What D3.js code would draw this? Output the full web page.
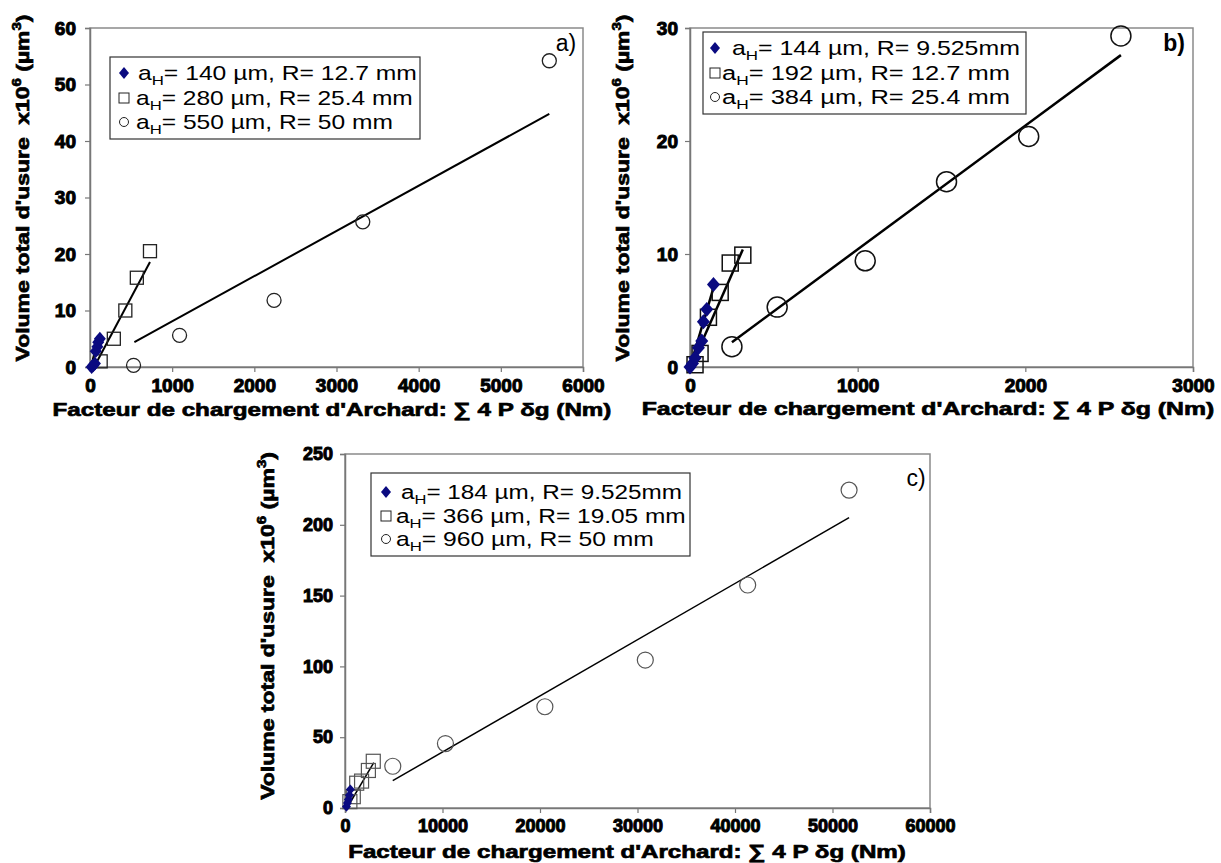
<!DOCTYPE html>
<html><head><meta charset="utf-8">
<script src="https://cdn.jsdelivr.net/npm/d3@7/dist/d3.min.js"></script>
<style>body{margin:0;background:#fff}svg{display:block}text{font-family:Arial,"Liberation Sans",sans-serif}</style>
</head><body>
<svg id="c" width="1221" height="863"></svg>
<script>
// ---------- DATA ----------
const aXTicks = [0,1000,2000,3000,4000,5000,6000];
const aYTicks = [0,10,20,30,40,50,60];
const aDiamonds = [[20,0],[40,0.3],[60,0.6],[70,2.8],[90,3.6],[100,4.4],[120,5]];
const aSquares  = [[130,1],[290,5],[430,10],[570,15.8],[730,20.5]];
const aCircles  = [[530,0.3],[1090,5.6],[2240,11.8],[3320,25.7],[5590,54.2]];
const aFitDiamonds = [[20,0.5],[90,4.6]];
const aFitSquares  = [[50,0],[730,18.6]];
const aFitCircles  = [[540,4.4],[5590,44.8]];
const aLegend = ["= 140 µm, R= 12.7 mm","= 280 µm, R= 25.4 mm","= 550 µm, R= 50 mm"];

const bXTicks = [0,1000,2000,3000];
const bYTicks = [0,10,20,30];
const bDiamonds = [[0,0],[15,0.3],[30,0.8],[50,1.7],[70,2.3],[80,4],[100,5.1],[140,7.3]];
const bSquares  = [[30,0.2],[60,1.2],[110,4.4],[180,6.6],[240,9.2],[315,9.9]];
const bCircles  = [[250,1.8],[520,5.3],[1045,9.4],[1530,16.4],[2020,20.4],[2570,29.3]];
const bFitDiamonds = [[0,0],[140,7]];
const bFitSquares  = [[20,0.5],[315,10.4]];
const bFitCircles  = [[250,2.2],[2570,27.6]];
const bLegend = ["= 144 µm, R= 9.525mm","= 192 µm, R= 12.7 mm","= 384 µm, R= 25.4 mm"];

const cXTicks = [0,10000,20000,30000,40000,50000,60000];
const cYTicks = [0,50,100,150,200,250];
const cDiamonds = [[150,1],[250,3.5],[350,6],[450,9],[550,13]];
const cSquares  = [[500,4.5],[850,8],[1200,17.5],[1700,19],[2400,26.5],[2900,33]];
const cCircles  = [[4900,29.5],[10300,45.5],[20500,71.5],[30800,104.5],[41300,157.5],[51700,224.5]];
const cFitDiamonds = [[100,0],[600,14]];
const cFitSquares  = [[200,0],[2950,32]];
const cFitCircles  = [[4900,19.3],[51700,205]];
const cLegend = ["= 184 µm, R= 9.525mm","= 366 µm, R= 19.05 mm","= 960 µm, R= 50 mm"];

const xTitle = "Facteur de chargement d'Archard: \u2211 4 P \u03B4g (Nm)";

// ---------- DRAW ----------
const svg = d3.select("#c");
const navy = "#0a0a80";
const diamondPath = (cx,cy,w,h) => `M${cx},${cy-h}L${cx+w},${cy}L${cx},${cy+h}L${cx-w},${cy}Z`;

function panel(o){
  const g = svg.append("g");
  const x = d3.scaleLinear().domain([o.xTicks[0], o.xTicks[o.xTicks.length-1]]).range([o.L, o.R]);
  const y = d3.scaleLinear().domain([o.yTicks[0], o.yTicks[o.yTicks.length-1]]).range([o.B, o.T]);
  g.append("rect").attr("x",o.L).attr("y",o.T).attr("width",o.R-o.L).attr("height",o.B-o.T)
    .attr("fill","none").attr("stroke","#8a8a8a").attr("stroke-width",1.5);
  const ax = g.append("g").attr("transform",`translate(0,${o.B})`)
    .call(d3.axisBottom(x).tickValues(o.xTicks).tickSize(5).tickPadding(5).tickFormat(d3.format("d")));
  const ay = g.append("g").attr("transform",`translate(${o.L},0)`)
    .call(d3.axisLeft(y).tickValues(o.yTicks).tickSize(5).tickPadding(o.ypad).tickFormat(d3.format("d")));
  [ax,ay].forEach(a=>{
    a.select(".domain").attr("stroke","#777").attr("stroke-width",1.5);
    a.selectAll(".tick line").attr("stroke","#777").attr("stroke-width",1.2);
    a.selectAll(".tick text")
      .style("font-size",o.tickFs+"px").style("font-weight","bold").style("fill","#000")
      .style("stroke","#000").style("stroke-width","1px")
      .style("font-family","Arial,'Liberation Sans',sans-serif");
  });
  ax.selectAll(".tick text").attr("dy","0.78em");

  const line = d3.line().x(d=>x(d[0])).y(d=>y(d[1]));
  [[o.fitS,"#000"],[o.fitC,"#000"],[o.fitD,o.fitDColor]].forEach(([f,c])=>{
    g.append("path").attr("d",line(f)).attr("stroke",c).attr("stroke-width",o.lw).attr("fill","none");
  });
  g.selectAll(null).data(o.circles).join("circle")
    .attr("cx",d=>x(d[0])).attr("cy",d=>y(d[1])).attr("r",o.cr)
    .attr("fill","none").attr("stroke",o.mk).attr("stroke-width",o.mw);
  g.selectAll(null).data(o.squares).join("rect")
    .attr("x",d=>x(d[0])-o.sq/2).attr("y",d=>y(d[1])-o.sq/2).attr("width",o.sq).attr("height",o.sq)
    .attr("fill","none").attr("stroke",o.mk).attr("stroke-width",o.mw);
  g.selectAll(null).data(o.diamonds).join("path")
    .attr("d",d=>diamondPath(x(d[0]),y(d[1]),o.dm/2,o.dm/2*1.15))
    .attr("fill",navy);

  // legend
  const lg = g.append("g");
  lg.append("rect").attr("x",o.lx0).attr("y",o.ly0).attr("width",o.lx1-o.lx0).attr("height",o.ly1-o.ly0)
    .attr("fill","#fff").attr("stroke","#333").attr("stroke-width",1.2);
  o.legend.forEach((t,i)=>{
    const cy = o.rows[i];
    if(i===0){
      lg.append("path").attr("d",diamondPath(o.mx,cy,5,6)).attr("fill",navy);
    } else if(i===1){
      lg.append("rect").attr("x",o.mx-5).attr("y",cy-5).attr("width",10).attr("height",10).attr("fill","none").attr("stroke","#222").attr("stroke-width",1);
    } else {
      lg.append("circle").attr("cx",o.mx).attr("cy",cy).attr("r",4.5).attr("fill","none").attr("stroke","#222").attr("stroke-width",1);
    }
    const te = lg.append("text").attr("x",0).attr("y",0).style("font-size",o.lfs+"px").attr("fill","#000");
    te.append("tspan").text("a");
    te.append("tspan").style("font-size",(o.lfs*0.68)+"px").attr("dy",o.lfs*0.25).text("H");
    te.append("tspan").attr("dy",-o.lfs*0.25).text(t);
    const s = o.tw[i] / te.node().getBBox().width;
    te.attr("transform",`translate(${o.tx[i]},${cy+o.lfs*0.36}) scale(${s},1)`);
  });

  g.append("text").attr("x",o.plx).attr("y",o.ply).style("font-size",o.plfs+"px").style("font-weight",o.plw)
    .attr("text-anchor","middle").text(o.pl);

  const xt = g.append("text").style("font-size",o.tfs+"px").style("font-weight","bold").attr("text-anchor","middle")
    .style("stroke","#000").style("stroke-width","0.7px").text(xTitle);
  const sx = o.xtw / xt.node().getBBox().width;
  xt.attr("transform",`translate(${o.xtx},${o.xty}) scale(${sx},1)`);

  const yt = g.append("text").style("font-size",o.tfs+"px").style("font-weight","bold").attr("text-anchor","middle")
    .style("stroke","#000").style("stroke-width","0.7px");
  yt.append("tspan").text("Volume total d'usure\u00A0 x10");
  yt.append("tspan").style("font-size",(o.tfs*0.65)+"px").attr("dy",-o.tfs*0.4).text("6");
  yt.append("tspan").attr("dy",o.tfs*0.4).text(" (µm");
  yt.append("tspan").style("font-size",(o.tfs*0.65)+"px").attr("dy",-o.tfs*0.4).text("3");
  yt.append("tspan").attr("dy",o.tfs*0.4).text(")");
  const sy = o.ytw / yt.node().getBBox().width;
  yt.attr("transform",`translate(${o.ytx},${o.yty}) rotate(-90) scale(${sy},1)`);
}

panel({xTicks:aXTicks,yTicks:aYTicks,diamonds:aDiamonds,squares:aSquares,circles:aCircles,
  fitD:aFitDiamonds,fitS:aFitSquares,fitC:aFitCircles,fitDColor:"#000",legend:aLegend,
  L:90,R:583,T:28,B:367,ypad:9,tickFs:19,lw:2,cr:7,sq:13,dm:12,mk:"#222",mw:1.3,
  lx0:110,lx1:420,ly0:57,ly1:139,rows:[73,98,122],mx:124,tx:[138,136,136],tw:[279,277,257],lfs:20,
  pl:"a)",plx:566,ply:51,plfs:23,plw:"normal",
  tfs:19,xtx:332,xty:416,xtw:559,ytx:29,yty:188,ytw:347});

panel({xTicks:bXTicks,yTicks:bYTicks,diamonds:bDiamonds,squares:bSquares,circles:bCircles,
  fitD:bFitDiamonds,fitS:bFitSquares,fitC:bFitCircles,fitDColor:"#000",legend:bLegend,
  L:690,R:1193,T:28,B:367,ypad:7,tickFs:19,lw:2.5,cr:10,sq:16,dm:13,mk:"#111",mw:1.5,
  lx0:703,lx1:1026,ly0:32,ly1:114,rows:[48,73,97],mx:715,tx:[732,722,722],tw:[288,288,288],lfs:20,
  pl:"b)",plx:1174,ply:51,plfs:23,plw:"bold",
  tfs:19,xtx:928,xty:415,xtw:573,ytx:629,yty:188,ytw:347});

panel({xTicks:cXTicks,yTicks:cYTicks,diamonds:cDiamonds,squares:cSquares,circles:cCircles,
  fitD:cFitDiamonds,fitS:cFitSquares,fitC:cFitCircles,fitDColor:navy,legend:cLegend,
  L:345,R:930,T:454,B:808,ypad:7,tickFs:18,lw:1.5,cr:8,sq:14,dm:9,mk:"#555",mw:1.2,
  lx0:371,lx1:690,ly0:473,ly1:556,rows:[492,516,539],mx:386,tx:[401,396,396],tw:[281,290,258],lfs:20,
  pl:"c)",plx:916,ply:486,plfs:23,plw:"normal",
  tfs:19,xtx:627,xty:858,xtw:558,ytx:274,yty:626,ytw:348});
</script>
</body></html>
